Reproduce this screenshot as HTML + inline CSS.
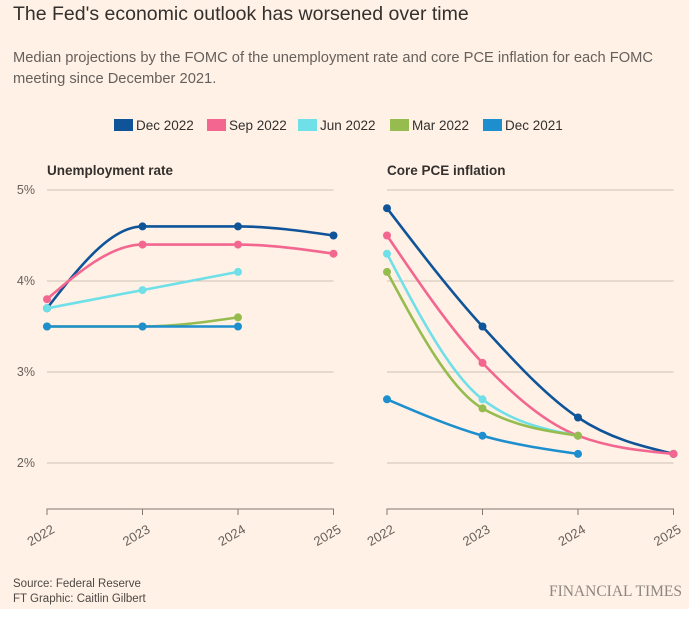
<!DOCTYPE html>
<html><head><meta charset="utf-8"><style>
body{margin:0;width:695px;height:617px;background:#fff;overflow:hidden;font-family:"Liberation Sans",sans-serif}
#bg{position:absolute;left:0;top:0;width:689px;height:609px;background:#FFF1E5;border-radius:0 0 3px 0}
.t{position:absolute;white-space:nowrap}
</style></head><body>
<div id="bg"></div>
<div class="t" style="left:13px;top:3px;font-size:19.5px;color:#33302e">The Fed's economic outlook has worsened over time</div>
<div class="t" style="left:13px;top:48px;font-size:14.7px;line-height:21px;color:#66605c">Median projections by the FOMC of the unemployment rate and core PCE inflation for each FOMC<br>meeting since December 2021.</div>
<svg id="s" width="695" height="617" style="position:absolute;left:0;top:0" font-family="Liberation Sans, sans-serif"></svg>
<script>
const s=document.getElementById('s');let h='';
const legend=[["Dec 2022","#0F5499",114],["Sep 2022","#F2668F",207],["Jun 2022","#6FDFE8",298],["Mar 2022","#96BC4F",390],["Dec 2021","#1E8FCE",483]];
legend.forEach(l=>{h+=`<rect x="${l[2]}" y="119" width="19" height="12" fill="${l[1]}"/><text x="${l[2]+22}" y="130" font-size="13.5" fill="#33302e">${l[0]}</text>`});
const Y=v=>190+(5-v)*91;
const panels=[[47,"Unemployment rate",[[3.7,4.6,4.6,4.5],[3.8,4.4,4.4,4.3],[3.7,3.9,4.1],[3.5,3.5,3.6],[3.5,3.5,3.5]]],
[387,"Core PCE inflation",[[4.8,3.5,2.5,2.1],[4.5,3.1,2.3,2.1],[4.3,2.7,2.3],[4.1,2.6,2.3],[2.7,2.3,2.1]]]];
const dx=95.5;
function mono(p){const n=p.length;if(n<2)return'';const d=[],m=[];for(let i=0;i<n-1;i++)d.push((p[i+1][1]-p[i][1])/(p[i+1][0]-p[i][0]));
m[0]=0;for(let i=1;i<n-1;i++){if(d[i-1]*d[i]<=0)m[i]=0;else{const h0=p[i][0]-p[i-1][0],h1=p[i+1][0]-p[i][0];const p1=(d[i-1]*h1+d[i]*h0)/(h0+h1);m[i]=(Math.sign(d[i-1])+Math.sign(d[i]))*Math.min(Math.abs(d[i-1]),Math.abs(d[i]),0.5*Math.abs(p1))}}
m[0]=n>2?(3*d[0]-m[1])/2:d[0];m[n-1]=n>2?(3*d[n-2]-m[n-2])/2:d[n-2];
let r=`M${p[0][0]},${p[0][1]}`;for(let i=0;i<n-1;i++){const hh=(p[i+1][0]-p[i][0])/3;r+=`C${p[i][0]+hh},${p[i][1]+m[i]*hh} ${p[i+1][0]-hh},${p[i+1][1]-m[i+1]*hh} ${p[i+1][0]},${p[i+1][1]}`}return r}
panels.forEach((P,pi)=>{const x0=P[0];
h+=`<text x="${x0}" y="175" font-size="13.5" font-weight="bold" fill="#33302e" style="font-weight:600">${P[1]}</text>`;
[5,4,3,2].forEach(v=>{h+=`<line x1="${x0}" x2="${x0+3*dx}" y1="${Y(v)}" y2="${Y(v)}" stroke="#ccc1b7" stroke-width="1"/>`;if(pi==0)h+=`<text x="35" y="${Y(v)+4}" font-size="12.5" fill="#66605c" text-anchor="end">${v}%</text>`});
h+=`<path d="M${x0},515V509H${x0+3*dx}V515" fill="none" stroke="#807973"/>`;
for(let i=0;i<4;i++){const x=x0+i*dx;if(i>0&&i<3)h+=`<line x1="${x}" x2="${x}" y1="509" y2="515" stroke="#807973"/>`;
h+=`<text transform="translate(${x+4},524) rotate(-30)" font-size="13" fill="#66605c" text-anchor="end" dy="0.7em">${2022+i}</text>`}
P[2].forEach((ser,si)=>{const c=legend[si][1];const pts=ser.map((v,i)=>[x0+i*dx,Y(v)]);
h+=`<path d="${mono(pts)}" fill="none" stroke="${c}" stroke-width="2.6"/>`;pts.forEach(q=>h+=`<circle cx="${q[0]}" cy="${q[1]}" r="4" fill="${c}"/>`)});
});
h+=`<text x="13" y="587" font-size="11.5" fill="#4d4845">Source: Federal Reserve</text><text x="13" y="602" font-size="11.5" fill="#4d4845">FT Graphic: Caitlin Gilbert</text>`;
h+=`<text x="682" y="596" font-size="15.5" fill="#8f8680" text-anchor="end" font-family="Liberation Serif, serif">FINANCIAL TIMES</text>`;
s.innerHTML=h;
</script>
</body></html>
